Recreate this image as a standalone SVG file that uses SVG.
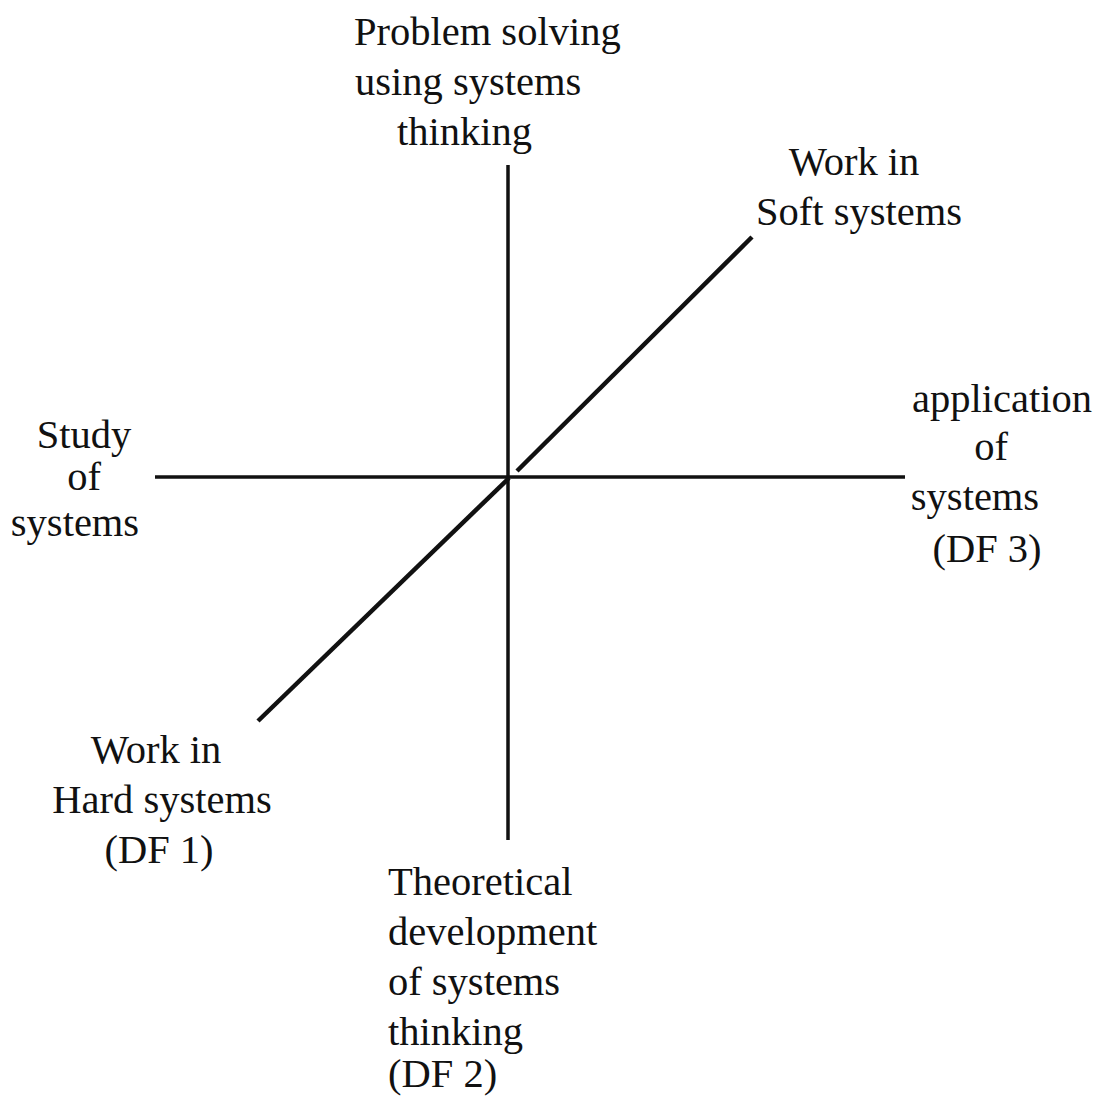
<svg xmlns="http://www.w3.org/2000/svg" width="1100" height="1098" viewBox="0 0 1100 1098">
  <style>
    .lbl { font-family: "Liberation Serif", "Times New Roman", serif; font-size: 40.5px; fill: #111; }
    .mid { text-anchor: middle; }
    .axis { stroke: #111; stroke-width: 3.5; fill: none; }
    .diag { stroke: #111; stroke-width: 4.5; fill: none; stroke-linecap: butt; }
  </style>
  <rect width="1100" height="1098" fill="#fff"/>

  <!-- axes -->
  <g id="connectors">
    <line class="axis" x1="508" y1="165" x2="508" y2="840"/>
    <line class="axis" x1="155" y1="477" x2="905" y2="477"/>
    <line class="diag" x1="517" y1="471" x2="752" y2="237"/>
    <line class="diag" x1="509" y1="478" x2="258" y2="721"/>
  </g>

  <g id="top-label">
    <text class="lbl" x="354" y="45">Problem solving</text>
    <text class="lbl" x="355" y="95">using systems</text>
    <text class="lbl" x="397" y="145">thinking</text>
  </g>

  <g id="soft-systems">
    <text class="lbl mid" x="854" y="175">Work in</text>
    <text class="lbl mid" x="859" y="225">Soft systems</text>
  </g>

  <g id="study-of-systems">
    <text class="lbl mid" x="84" y="448">Study</text>
    <text class="lbl mid" x="84" y="490">of</text>
    <text class="lbl mid" x="75" y="536">systems</text>
  </g>

  <g id="application-of-systems">
    <text class="lbl mid" x="1002" y="412">application</text>
    <text class="lbl mid" x="991" y="460">of</text>
    <text class="lbl mid" x="975" y="510">systems</text>
    <text class="lbl mid" x="987" y="562">(DF 3)</text>
  </g>

  <g id="hard-systems">
    <text class="lbl mid" x="156" y="763">Work in</text>
    <text class="lbl mid" x="162" y="813">Hard systems</text>
    <text class="lbl mid" x="159" y="863">(DF 1)</text>
  </g>

  <g id="theoretical-development">
    <text class="lbl" x="388" y="895">Theoretical</text>
    <text class="lbl" x="388" y="945">development</text>
    <text class="lbl" x="388" y="995">of systems</text>
    <text class="lbl" x="388" y="1045">thinking</text>
    <text class="lbl" x="388" y="1087">(DF 2)</text>
  </g>
</svg>
